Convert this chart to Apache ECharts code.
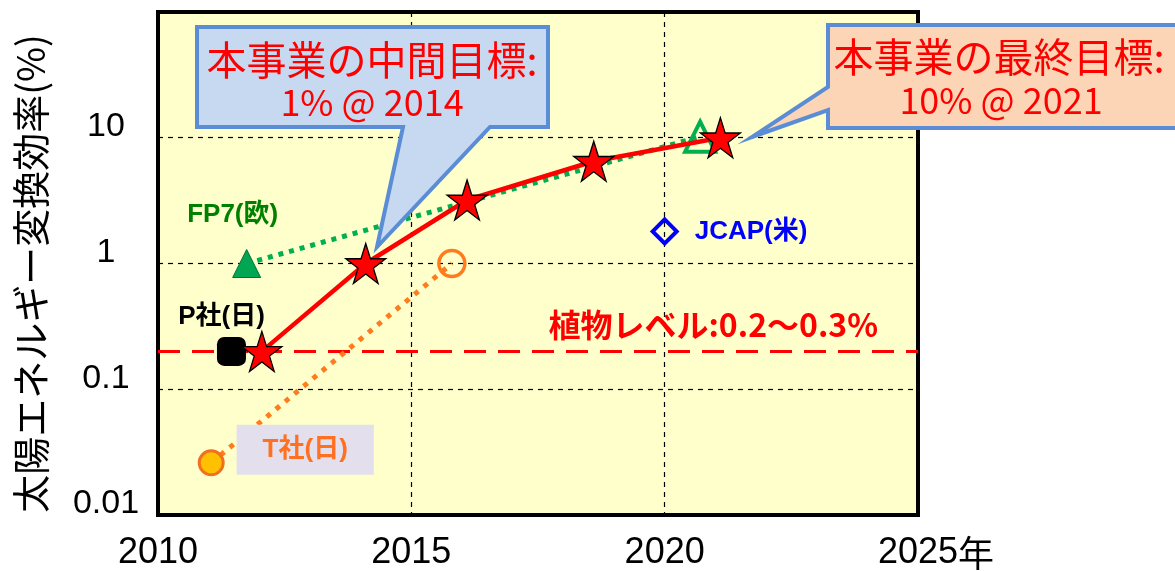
<!DOCTYPE html>
<html>
<head>
<meta charset="utf-8">
<script src="https://cdn.jsdelivr.net/npm/echarts@6/dist/echarts.min.js"></script>
<style>
  html, body { margin: 0; padding: 0; background: #fff; }
  #main { width: 1175px; height: 571px; }
</style>
</head>
<body>
<div id="main"></div>
<script>
// 本事業 (赤い星)
var ownYears = [2012.05, 2014.1, 2016.1, 2018.6, 2021.1];
var ownEff = [0.2, 1.0, 3.2, 6.5, 10];
// FP7(欧)
var fp7Years = [2011.75, 2020.7];
var fp7Eff = [1.0, 10.2];
// P社(日)
var pYears = [2011.45];
var pEff = [0.2];
// T社(日)
var tYears = [2011.05, 2015.8];
var tEff = [0.026, 1.0];
// JCAP(米)
var jcapYears = [2020.0];
var jcapEff = [1.8];
// 植物レベル
var plantLevel = 0.2;
var xTicks = [2010, 2015, 2020, 2025];

var starPath = 'path://M50,0 L61.2,34.5 L97.6,34.5 L68.2,55.9 L79.4,90.5 L50,69.1 L20.6,90.5 L31.8,55.9 L2.4,34.5 L38.8,34.5 Z';
var latin = "'Liberation Sans', Arial, 'Noto Sans CJK JP', sans-serif";
var cjk = "'Noto Sans CJK JP', 'Liberation Sans', sans-serif";

function pairs(xs, ys) {
    var out = [];
    for (var i = 0; i < xs.length; i++) {
        out.push([xs[i], ys[i]]);
    }
    return out;
}

var chart = echarts.init(document.getElementById('main'));

var option = {
    animation: false,
    backgroundColor: '#fff',
    grid: {
        left: 158, right: 257, top: 12, bottom: 54,
        show: true,
        backgroundColor: '#FFFFCC',
        borderColor: '#000',
        borderWidth: 4
    },
    xAxis: {
        type: 'value',
        min: xTicks[0],
        max: xTicks[xTicks.length - 1],
        interval: 5,
        axisLine: { show: false },
        axisTick: { show: false },
        splitLine: { lineStyle: { color: '#000', width: 1.2, type: [5, 5] } },
        axisLabel: {
            fontSize: 36,
            fontFamily: latin,
            color: '#000',
            margin: 20,
            formatter: function (v) {
                return v === 2025 ? '{pad|}2025{nen|年}' : String(v);
            },
            rich: {
                pad: { width: 36 },
                nen: { fontSize: 36, fontFamily: cjk, color: '#000' }
            }
        }
    },
    yAxis: {
        type: 'log',
        logBase: 10,
        min: 0.01,
        max: 100,
        axisLine: { show: false },
        axisTick: { show: false },
        splitLine: { lineStyle: { color: '#000', width: 1.2, type: [5, 5] } },
        name: '太陽エネルギー変換効率(%)',
        nameLocation: 'middle',
        nameRotate: 90,
        nameGap: 108,
        nameTextStyle: { fontSize: 38, fontFamily: cjk, color: '#000', padding: [0, 20, 0, 0] },
        axisLabel: {
            fontSize: 34,
            lineHeight: 22,
            fontFamily: latin,
            color: '#000',
            align: 'center',
            verticalAlign: 'bottom',
            margin: 52,
            formatter: function (v) {
                if (v >= 99) return '';
                return String(+(+v).toPrecision(2));
            }
        }
    },
    series: [
        {
            name: 'FP7',
            type: 'line',
            z: 2,
            lineStyle: { color: '#00B050', width: 5, type: [5, 6] },
            symbol: 'triangle',
            symbolSize: 28,
            itemStyle: { color: '#00A651', borderColor: '#00703C', borderWidth: 1, opacity: 1 },
            data: [
                { value: [fp7Years[0], fp7Eff[0]],
                  label: { show: true, position: 'inside', offset: [-14, -49], formatter: 'FP7(欧)',
                           color: '#008000', fontSize: 26, fontWeight: 'bold', fontFamily: latin } },
                { value: [fp7Years[1], fp7Eff[1]], symbolSize: 30,
                  itemStyle: { color: 'rgba(0,0,0,0)', borderColor: '#00B050', borderWidth: 4 } }
            ]
        },
        {
            name: 'T社',
            type: 'line',
            z: 2,
            lineStyle: { color: '#FF7C1E', width: 5, type: [5, 7] },
            symbol: 'circle',
            itemStyle: { opacity: 1 },
            data: [
                { value: [tYears[0], tEff[0]], symbolSize: 24,
                  itemStyle: { color: '#FFC000', borderColor: '#F07020', borderWidth: 3 },
                  label: { show: true, position: 'inside', offset: [94, -13], formatter: 'T社(日)',
                           color: '#FF7020', fontSize: 26, fontWeight: 'bold', fontFamily: latin,
                           backgroundColor: '#E4DFEC', padding: [12, 26] } },
                { value: [tYears[1], tEff[1]], symbolSize: 26,
                  itemStyle: { color: 'rgba(0,0,0,0)', borderColor: '#FF7C1E', borderWidth: 3.5 } }
            ]
        },
        {
            name: 'P社',
            type: 'scatter',
            z: 3,
            symbol: 'roundRect',
            symbolSize: 29,
            itemStyle: { color: '#000', opacity: 1 },
            label: { show: true, position: 'inside', offset: [-10, -35], formatter: 'P社(日)',
                     color: '#000', fontSize: 26, fontWeight: 'bold', fontFamily: latin },
            data: pairs(pYears, pEff)
        },
        {
            name: 'JCAP',
            type: 'scatter',
            z: 3,
            symbol: 'diamond',
            symbolSize: 24,
            itemStyle: { color: 'rgba(0,0,0,0)', borderColor: '#0000FF', borderWidth: 4, opacity: 1 },
            label: { show: true, position: 'right', distance: 16, formatter: 'JCAP(米)',
                     color: '#0000FF', fontSize: 26, fontWeight: 'bold', fontFamily: latin },
            data: pairs(jcapYears, jcapEff)
        },
        {
            name: '本事業',
            type: 'line',
            z: 4,
            data: pairs(ownYears, ownEff),
            lineStyle: { color: '#FF0000', width: 4.5 },
            symbol: starPath,
            symbolSize: 40,
            itemStyle: { color: '#FF0000', borderColor: '#000', borderWidth: 1.3, opacity: 1 },
            markLine: {
                silent: true,
                symbol: 'none',
                z: 1,
                lineStyle: { color: '#FF0000', width: 3, type: [22, 12] },
                label: {
                    show: true,
                    position: 'insideEndTop',
                    formatter: '植物レベル:0.2〜0.3%',
                    color: '#FF0000',
                    fontSize: 32,
                    fontWeight: 'bold',
                    fontFamily: cjk,
                    distance: 11,
                    padding: [0, 29, 0, 0]
                },
                data: [{ yAxis: plantLevel }]
            }
        }
    ],
    graphic: [
        {
            type: 'polygon', z: 100,
            shape: { points: [[197, 27], [548, 27], [548, 127], [490, 127], [377, 247], [403, 127], [197, 127]] },
            style: { fill: '#C6D9F1', stroke: '#5B8DD6', lineWidth: 4, lineJoin: 'miter' }
        },
        {
            type: 'text', z: 101, x: 372, y: 60,
            style: { text: '本事業の中間目標:', fill: '#FF0000', font: '40px ' + cjk, align: 'center', verticalAlign: 'middle' }
        },
        {
            type: 'text', z: 101, x: 372, y: 102,
            style: { text: '1% @ 2014', fill: '#FF0000', font: '36px ' + cjk, align: 'center', verticalAlign: 'middle' }
        },
        {
            type: 'polygon', z: 100,
            shape: { points: [[828, 25], [1180, 25], [1180, 128], [828, 128], [828, 110], [752, 137], [828, 87]] },
            style: { fill: '#FBD5B5', stroke: '#5B8DD6', lineWidth: 4, lineJoin: 'miter' }
        },
        {
            type: 'text', z: 101, x: 999, y: 57,
            style: { text: '本事業の最終目標:', fill: '#FF0000', font: '40px ' + cjk, align: 'center', verticalAlign: 'middle' }
        },
        {
            type: 'text', z: 101, x: 1001, y: 100,
            style: { text: '10% @ 2021', fill: '#FF0000', font: '36px ' + cjk, align: 'center', verticalAlign: 'middle' }
        }
    ]
};

chart.setOption(option);
</script>
</body>
</html>
